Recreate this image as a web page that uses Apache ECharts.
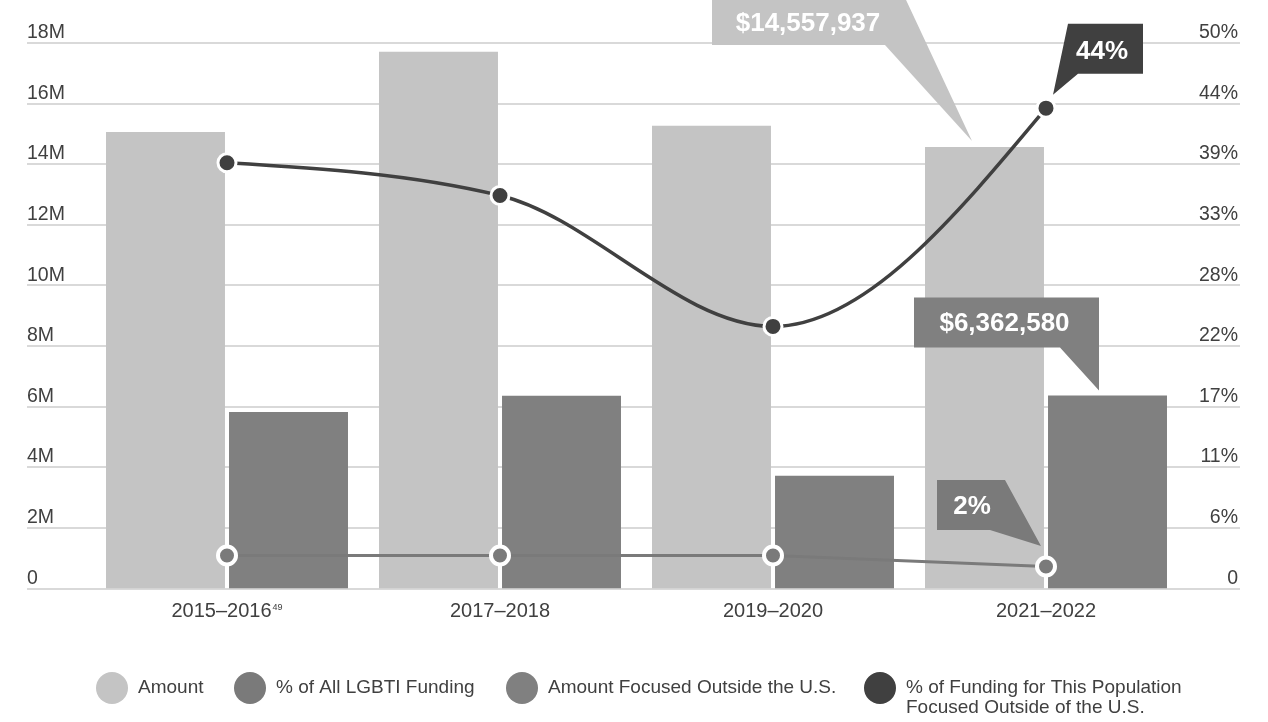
<!DOCTYPE html>
<html><head><meta charset="utf-8">
<script src="https://cdn.jsdelivr.net/npm/echarts@6/dist/echarts.min.js"></script>
<style>html,body{margin:0;padding:0;background:#fff}#c{width:1268px;height:722px}</style>
</head><body><div id="c"></div>
<script>
// ---- data ----
const categories = ['2015–2016', '2017–2018', '2019–2020', '2021–2022'];
const footnotes = ['49', '', '', ''];
const amount = [15050000, 17700000, 15260000, 14557937];
const amountOutside = [5820000, 6350000, 3710000, 6362580];
const shareOfAll = [3, 3, 3, 2];
const shareOutside = [39, 36, 24, 44];
const leftTicks = ['0', '2M', '4M', '6M', '8M', '10M', '12M', '14M', '16M', '18M'];
const rightTicks = ['0', '6%', '11%', '17%', '22%', '28%', '33%', '39%', '44%', '50%'];
const nameAmount = 'Amount';
const nameShareAll = '% of All LGBTI Funding';
const nameOutside = 'Amount Focused Outside the U.S.';
const nameShareOutside = '% of Funding for This Population\nFocused Outside of the U.S.';

// ---- chart ----
const FONT = '"Liberation Sans", Arial, Helvetica, sans-serif';
const TXT = '#404040';
const LEFT_MAX = 18000000, LEFT_INT = 2000000;
const RIGHT_MAX = 50, RIGHT_INT = 50 / 9;
const chart = echarts.init(document.getElementById('c'), null, {renderer: 'canvas'});

const gridTop = 42.7, gridBottom = 133.7;
const legendText = {color: TXT, fontSize: 19, fontFamily: FONT, padding: [0, 0, 0, 5], lineHeight: 20};
const legendBase = {
  top: 672, icon: 'circle', itemWidth: 32, itemHeight: 32, padding: 0, itemGap: 0,
  selectedMode: false, itemStyle: {borderWidth: 0}, textStyle: legendText
};

// monotone cubic (x) segment drawing through the axis scales
function monotoneTangents(p) {
  const n = p.length, s = [], t = new Array(n).fill(0);
  for (let i = 0; i < n - 1; i++) s.push((p[i + 1][1] - p[i][1]) / (p[i + 1][0] - p[i][0]));
  for (let i = 1; i < n - 1; i++) {
    const h0 = p[i][0] - p[i - 1][0], h1 = p[i + 1][0] - p[i][0];
    const s0 = s[i - 1], s1 = s[i];
    const q = (s0 * h1 + s1 * h0) / (h0 + h1);
    t[i] = (Math.sign(s0) + Math.sign(s1)) * Math.min(Math.abs(s0), Math.abs(s1), 0.5 * Math.abs(q)) || 0;
  }
  t[0] = (3 * s[0] - t[1]) / 2;
  t[n - 1] = (3 * s[n - 2] - t[n - 2]) / 2;
  return t;
}

const option = {
  animation: false,
  backgroundColor: '#fff',
  textStyle: {fontFamily: FONT},
  grid: [
    {left: 27, right: 28, top: gridTop, bottom: gridBottom},
    {left: 90.5, right: 85.5, top: gridTop, bottom: gridBottom}
  ],
  legend: [
    Object.assign({}, legendBase, {data: [nameAmount], left: 96}),
    Object.assign({}, legendBase, {data: [nameShareAll], left: 234}),
    Object.assign({}, legendBase, {data: [nameOutside], left: 506}),
    Object.assign({}, legendBase, {data: [nameShareOutside], left: 864, itemHeight: 52,
      icon: 'path://M0,16a16,16 0 1,0 32,0a16,16 0 1,0 -32,0zM16,52L16,52z'})
  ],
  xAxis: [
    {gridIndex: 0, type: 'value', min: 0, max: 1, show: false},
    {gridIndex: 1, type: 'category', data: categories, boundaryGap: true,
      axisLine: {show: false}, axisTick: {show: false}, splitLine: {show: false},
      axisLabel: {
        margin: 12, color: TXT, fontSize: 20, fontFamily: FONT,
        formatter: (v, i) => footnotes[i] ? '{a|' + v + '}{s|' + footnotes[i] + '}' : '{a|' + v + '}',
        rich: {
          a: {fontSize: 20, color: TXT, fontFamily: FONT, lineHeight: 22},
          s: {fontSize: 9, color: TXT, fontFamily: FONT, verticalAlign: 'top', lineHeight: 12, padding: [3, 0, 0, 1]}
        }
      }}
  ],
  yAxis: [
    {gridIndex: 0, type: 'value', position: 'left', min: 0, max: LEFT_MAX, interval: LEFT_INT,
      axisLine: {show: false}, axisTick: {show: false},
      splitLine: {show: true, lineStyle: {color: '#d9d9d9', width: 2}},
      axisLabel: {inside: true, margin: 0, align: 'left', verticalAlign: 'bottom', color: TXT,
        fontSize: 19.5, fontFamily: FONT,
        formatter: v => leftTicks[Math.round(v / LEFT_INT)]}},
    {gridIndex: 0, type: 'value', position: 'right', min: 0, max: RIGHT_MAX, interval: RIGHT_INT,
      axisLine: {show: false}, axisTick: {show: false}, splitLine: {show: false},
      axisLabel: {inside: true, margin: 2, align: 'right', verticalAlign: 'bottom', color: TXT,
        fontSize: 19.5, fontFamily: FONT,
        formatter: v => rightTicks[Math.round(v / RIGHT_INT)]}},
    {gridIndex: 1, type: 'value', min: 0, max: LEFT_MAX, interval: LEFT_INT, show: false},
    {gridIndex: 1, type: 'value', min: 0, max: RIGHT_MAX, interval: RIGHT_INT, show: false}
  ],
  series: [
    {name: nameAmount, type: 'bar', xAxisIndex: 1, yAxisIndex: 2, data: amount,
      itemStyle: {color: '#c4c4c4'}, barCategoryGap: '11.36%', barGap: '3.4%', z: 2},
    {name: nameOutside, type: 'bar', xAxisIndex: 1, yAxisIndex: 2, data: amountOutside,
      itemStyle: {color: '#808080'}, z: 2},
    {name: nameShareAll, type: 'line', xAxisIndex: 1, yAxisIndex: 3, data: shareOfAll,
      symbol: 'circle', symbolSize: 18, showAllSymbol: true,
      lineStyle: {color: '#7a7a7a', width: 3},
      itemStyle: {color: '#7a7a7a', borderColor: '#fff', borderWidth: 4}, z: 5},
    {name: nameShareOutside, type: 'line', xAxisIndex: 1, yAxisIndex: 3, data: shareOutside,
      symbol: 'circle', symbolSize: 18, showAllSymbol: true,
      lineStyle: {color: '#404040', width: 3.5, opacity: 0},
      itemStyle: {color: '#404040', borderColor: '#fff', borderWidth: 3}, z: 7},
    {type: 'custom', xAxisIndex: 1, yAxisIndex: 3, z: 6, silent: true,
      data: shareOutside.map((v, i) => [i, v]), encode: {x: 0, y: 1},
      renderItem: function (params, api) {
        const i = params.dataIndex;
        if (i >= shareOutside.length - 1) return null;
        const p = shareOutside.map((v, k) => api.coord([k, v]));
        const t = monotoneTangents(p);
        const dx = (p[i + 1][0] - p[i][0]) / 3;
        return {type: 'bezierCurve',
          shape: {x1: p[i][0], y1: p[i][1], x2: p[i + 1][0], y2: p[i + 1][1],
            cpx1: p[i][0] + dx, cpy1: p[i][1] + dx * t[i],
            cpx2: p[i + 1][0] - dx, cpy2: p[i + 1][1] - dx * t[i + 1]},
          style: {stroke: '#404040', lineWidth: 3.5, fill: null}};
      }}
  ]
};
chart.setOption(option);

// ---- callouts anchored to data points ----
function fmtMoney(v) { return '$' + v.toLocaleString('en-US'); }
function callout(seriesIndex, cat, val, pts, toff, text, color) {
  const a = chart.convertToPixel({seriesIndex: seriesIndex}, [cat, val]);
  return [
    {type: 'polygon', z: 100, silent: true,
      shape: {points: pts.map(p => [a[0] + p[0], a[1] + p[1]])},
      style: {fill: color}},
    {type: 'text', z: 101, silent: true, x: a[0] + toff[0], y: a[1] + toff[1],
      style: {text: text, fill: '#fff', font: 'bold 26px ' + FONT,
        align: 'center', verticalAlign: 'middle', textAlign: 'center', textVerticalAlign: 'middle'}}
  ];
}
const last = 3;
const els = [].concat(
  callout(0, categories[last], amount[last],
    [[-334, -160], [-146, -160], [-74, -6], [-161, -102], [-334, -102]], [-238, -123],
    fmtMoney(amount[last]), '#c4c4c4'),
  callout(3, categories[last], shareOutside[last],
    [[22, -84.3], [97, -84.3], [97, -34.3], [32, -34.3], [7, -13.3]], [56, -56],
    Math.round(shareOutside[last]) + '%', '#404040'),
  callout(1, categories[last], amountOutside[last],
    [[-132, -98], [53, -98], [53, -5], [14, -48], [-132, -48]], [-41.5, -72],
    fmtMoney(amountOutside[last]), '#808080'),
  callout(2, categories[last], shareOfAll[last],
    [[-109, -86.5], [-41, -86.5], [-5, -20.5], [-56, -36.5], [-109, -36.5]], [-74, -60],
    Math.round(shareOfAll[last]) + '%', '#7a7a7a')
);
chart.setOption({graphic: {elements: els}});
</script>
</body></html>
